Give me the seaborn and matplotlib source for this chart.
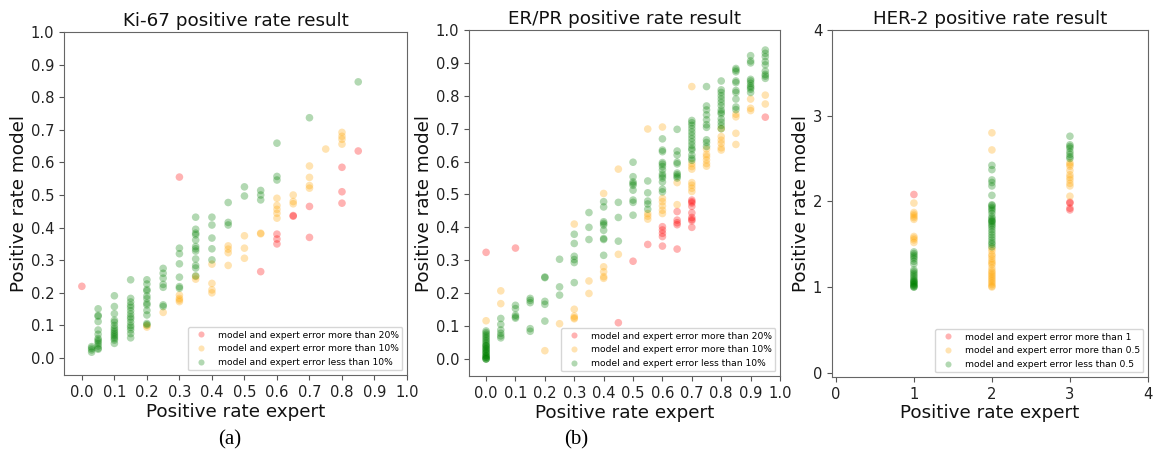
import matplotlib
matplotlib.use("Agg")
import matplotlib.pyplot as plt
import seaborn as sns
import pandas as pd

# ---------------- data (x value -> list of model values) ----------------
ki67_red = {0.0: [0.22], 0.3: [0.555], 0.55: [0.265], 0.6: [0.38, 0.365, 0.35],
            0.65: [0.435, 0.437], 0.7: [0.465, 0.37], 0.8: [0.585, 0.51, 0.475],
            0.85: [0.635]}
ki67_orange = {0.2: [0.095, 0.1], 0.25: [0.14], 0.3: [0.193, 0.183, 0.173, 0.178],
               0.35: [0.242, 0.25], 0.4: [0.288, 0.229, 0.209, 0.2],
               0.45: [0.344, 0.334, 0.323, 0.284], 0.5: [0.375, 0.337, 0.306],
               0.55: [0.383, 0.381], 0.6: [0.49, 0.468, 0.456, 0.444, 0.429],
               0.65: [0.5, 0.48, 0.473], 0.7: [0.589, 0.554, 0.529, 0.521],
               0.75: [0.641], 0.8: [0.692, 0.68, 0.671, 0.656]}
ki67_green = {0.03: [0.035, 0.03, 0.025, 0.018],
              0.05: [0.151, 0.131, 0.128, 0.112, 0.086, 0.073, 0.06, 0.055, 0.05, 0.044, 0.037, 0.03, 0.027],
              0.1: [0.191, 0.158, 0.136, 0.116, 0.11, 0.1, 0.092, 0.086, 0.08, 0.075, 0.07, 0.065, 0.06, 0.055, 0.045],
              0.15: [0.24, 0.183, 0.172, 0.162, 0.155, 0.145, 0.135, 0.126, 0.12, 0.11, 0.1, 0.094, 0.086, 0.075, 0.062],
              0.2: [0.24, 0.227, 0.21, 0.206, 0.19, 0.182, 0.168, 0.163, 0.146, 0.132, 0.106, 0.102],
              0.25: [0.275, 0.26, 0.245, 0.226, 0.217, 0.163, 0.158],
              0.3: [0.337, 0.32, 0.289, 0.248, 0.219, 0.214],
              0.35: [0.432, 0.395, 0.383, 0.378, 0.362, 0.342, 0.335, 0.328, 0.304, 0.284, 0.276, 0.252],
              0.4: [0.432, 0.408, 0.368, 0.335, 0.301],
              0.45: [0.477, 0.416, 0.408], 0.5: [0.525, 0.497],
              0.55: [0.514, 0.5, 0.485], 0.6: [0.659, 0.557, 0.546],
              0.7: [0.737], 0.85: [0.847]}

erpr_red = {0.0: [0.324], 0.1: [0.337], 0.45: [0.11], 0.5: [0.297], 0.55: [0.348],
            0.6: [0.402, 0.392, 0.382, 0.372, 0.343],
            0.65: [0.448, 0.422, 0.414, 0.408, 0.334],
            0.7: [0.483, 0.478, 0.474, 0.464, 0.444, 0.43, 0.424, 0.42, 0.4],
            0.95: [0.735]}
erpr_orange = {0.0: [0.116], 0.05: [0.207, 0.168], 0.2: [0.025], 0.25: [0.107],
               0.3: [0.41, 0.151, 0.13, 0.125, 0.122], 0.35: [0.237, 0.199],
               0.4: [0.503, 0.28, 0.265, 0.25, 0.245], 0.45: [0.577, 0.318],
               0.55: [0.699, 0.442, 0.434, 0.425],
               0.6: [0.705, 0.488, 0.478, 0.465, 0.452, 0.442],
               0.65: [0.536, 0.469],
               0.7: [0.828, 0.594, 0.585, 0.577, 0.536, 0.528, 0.519, 0.509],
               0.75: [0.638, 0.622, 0.615, 0.605, 0.594, 0.586],
               0.8: [0.7, 0.676, 0.665, 0.655, 0.642, 0.635],
               0.85: [0.744, 0.736, 0.686, 0.652], 0.9: [0.79, 0.762, 0.755],
               0.95: [0.802, 0.775]}
erpr_green = {0.0: [0.085, 0.08, 0.075, 0.07, 0.065, 0.06, 0.055, 0.05, 0.045, 0.04, 0.04, 0.035,
                    0.03, 0.03, 0.025, 0.02, 0.02, 0.015, 0.01, 0.01, 0.005, 0.005, 0.0, 0.0, 0.0],
              0.05: [0.123, 0.105, 0.088, 0.078, 0.07, 0.064],
              0.1: [0.163, 0.153, 0.133, 0.128, 0.124],
              0.15: [0.184, 0.178, 0.171, 0.092, 0.084],
              0.2: [0.249, 0.247, 0.175, 0.166, 0.115],
              0.25: [0.303, 0.219, 0.194],
              0.3: [0.379, 0.351, 0.312, 0.302, 0.293, 0.232],
              0.35: [0.445, 0.4, 0.363],
              0.4: [0.478, 0.462, 0.417, 0.412, 0.407, 0.391, 0.366, 0.363, 0.315],
              0.45: [0.476, 0.43, 0.358],
              0.5: [0.598, 0.554, 0.538, 0.533, 0.528, 0.513, 0.483, 0.476, 0.437],
              0.55: [0.541, 0.505, 0.48, 0.471, 0.455],
              0.6: [0.669, 0.635, 0.63, 0.597, 0.592, 0.585, 0.575, 0.562, 0.556, 0.55, 0.538, 0.516, 0.508],
              0.65: [0.698, 0.632, 0.62, 0.598, 0.593, 0.565, 0.56, 0.555, 0.55],
              0.7: [0.725, 0.718, 0.71, 0.7, 0.69, 0.68, 0.67, 0.66, 0.65, 0.64, 0.635, 0.62, 0.61, 0.604],
              0.75: [0.828, 0.769, 0.757, 0.742, 0.727, 0.712, 0.704, 0.666, 0.658, 0.646],
              0.8: [0.845, 0.818, 0.81, 0.8, 0.79, 0.78, 0.77, 0.757, 0.75, 0.745, 0.73, 0.72, 0.71, 0.7],
              0.85: [0.883, 0.878, 0.873, 0.845, 0.84, 0.816, 0.81, 0.79, 0.766, 0.758],
              0.9: [0.922, 0.906, 0.9, 0.85, 0.845, 0.838, 0.83, 0.825, 0.82, 0.81],
              0.95: [0.939, 0.929, 0.919, 0.904, 0.894, 0.875, 0.865, 0.86, 0.853]}

her2_red = {1: [2.08], 3: [1.99, 1.98, 1.92, 1.9]}
her2_orange = {1: [1.98, 1.87, 1.85, 1.83, 1.81, 1.79, 1.59, 1.57, 1.55, 1.52],
               2: [2.8, 2.6, 1.45, 1.42, 1.38, 1.36, 1.33, 1.3, 1.28, 1.26, 1.22, 1.19, 1.17,
                   1.15, 1.13, 1.11, 1.09, 1.07, 1.05, 1.03, 1.01, 1.0],
               3: [2.45, 2.43, 2.41, 2.36, 2.31, 2.28, 2.25, 2.21, 2.18, 2.06]}
her2_green = {1: [1.41, 1.39, 1.37, 1.35, 1.33, 1.3, 1.27, 1.2, 1.18, 1.16, 1.14, 1.12, 1.1,
                  1.08, 1.07, 1.06, 1.05, 1.04, 1.03, 1.02, 1.01, 1.0, 1.0],
              2: [2.42, 2.37, 2.25, 2.22, 2.18, 2.07, 1.96, 1.95, 1.93, 1.91, 1.89, 1.86, 1.82,
                  1.8, 1.78, 1.77, 1.76, 1.74, 1.72, 1.7, 1.67, 1.64, 1.61, 1.58, 1.55, 1.52, 1.5, 1.47],
              3: [2.76, 2.66, 2.64, 2.62, 2.58, 2.55, 2.52, 2.5]}

ki67_labels = ["model and expert error more than 20%", "model and expert error more than 10%",
               "model and expert error less than 10%"]
erpr_labels = ki67_labels
her2_labels = ["model and expert error more than 1", "model and expert error more than 0.5",
               "model and expert error less than 0.5"]
titles = ["Ki-67 positive rate result", "ER/PR positive rate result", "HER-2 positive rate result"]
captions = ["(a)", "(b)"]
rate_ticks = [0.0, 0.1, 0.2, 0.3, 0.4, 0.5, 0.6, 0.7, 0.8, 0.9, 1.0]
her2_ticks = [0, 1, 2, 3, 4]
colors = ["red", "orange", "green"]


def build(groups, labels):
    rows = []
    for g, lab in zip(groups, labels):
        for xv, ys in g.items():
            for yv in ys:
                rows.append({"expert": xv, "model": yv, "group": lab})
    return pd.DataFrame(rows)


fig = plt.figure(figsize=(11.53, 4.58), dpi=100)
positions = [[0.0555, 0.1812, 0.2975, 0.749],
             [0.4068, 0.179, 0.2697, 0.7555],
             [0.7216, 0.1769, 0.274, 0.7576]]
panels = [([ki67_red, ki67_orange, ki67_green], ki67_labels, rate_ticks, (-0.055, 1.0), (-0.052, 1.0)),
          ([erpr_red, erpr_orange, erpr_green], erpr_labels, rate_ticks, (-0.058, 1.0), (-0.052, 1.0)),
          ([her2_red, her2_orange, her2_green], her2_labels, her2_ticks, (-0.05, 4.0), (-0.05, 4.0))]

for pos, (groups, labels, ticks, xl, yl), title in zip(positions, panels, titles):
    ax = fig.add_axes(pos)
    df = build(groups, labels)
    sns.scatterplot(data=df, x="expert", y="model", hue="group", hue_order=labels,
                    palette=dict(zip(labels, colors)), alpha=0.3, s=30, linewidth=0, ax=ax)
    ax.set_xlim(*xl)
    ax.set_ylim(*yl)
    ax.set_xticks(ticks)
    ax.set_yticks(ticks)
    if isinstance(ticks[0], float):
        ax.set_xticklabels([f"{t:.1f}" for t in ticks])
        ax.set_yticklabels([f"{t:.1f}" for t in ticks])
    ax.tick_params(labelsize=10.6, colors="#222222")
    ax.tick_params(axis="both", color="#555555")
    for sp in ax.spines.values():
        sp.set_color("#666666")
    ax.set_xlabel("Positive rate expert", fontsize=13.2, color="#111111", labelpad=2)
    ax.set_ylabel("Positive rate model", fontsize=13.2, color="#111111", labelpad=2)
    ax.set_title(title, fontsize=13.2, color="#111111", pad=4)
    leg = ax.legend(loc="lower right", fontsize=6.6, frameon=True, markerscale=0.8)
    leg.get_frame().set_edgecolor("#cccccc")

fig.text(0.1995, 0.039, captions[0], fontsize=15, family="Liberation Serif", ha="center", va="center")
fig.text(0.4996, 0.039, captions[1], fontsize=15, family="Liberation Serif", ha="center", va="center")

fig.savefig("out.png", dpi=100)
